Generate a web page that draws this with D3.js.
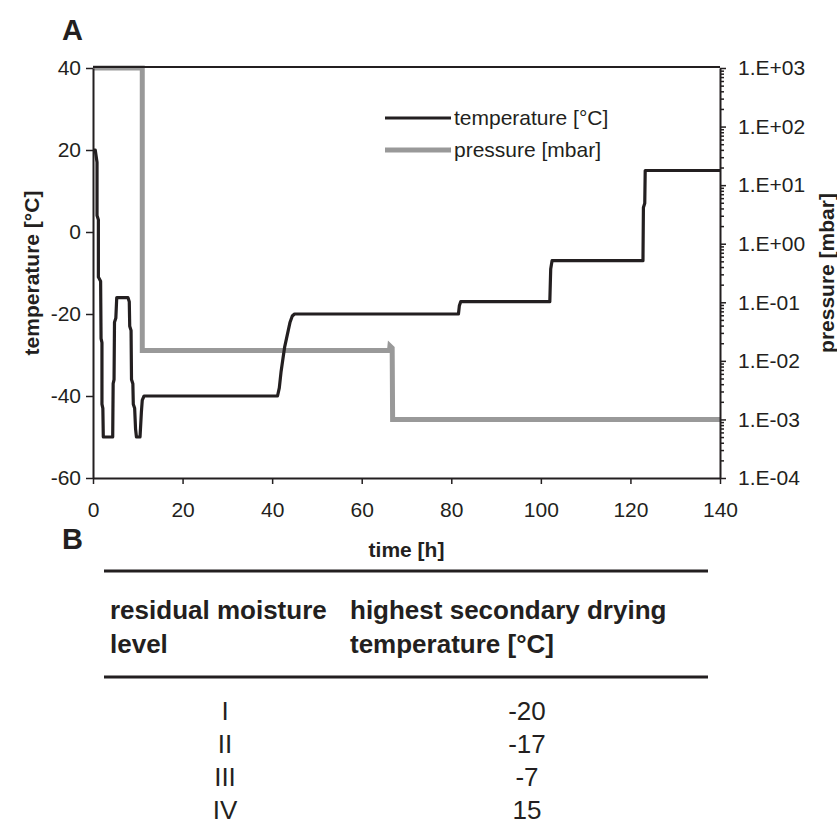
<!DOCTYPE html>
<html>
<head>
<meta charset="utf-8">
<script src="https://cdn.jsdelivr.net/npm/d3@7"></script>
<style>
  body { margin: 0; background: #fff; }
  svg text { font-family: "Liberation Sans", Arial, sans-serif; fill: #231f20; }
</style>
</head>
<body>
<div id="chart"></div>
<script>
// temperature trace (time [h], temperature [°C])
var timeTemp = [0, 0.5, 0.9, 0.9, 1.2, 1.2, 1.7, 1.8, 2.0, 2.0, 2.2, 2.3, 4.4, 4.5, 4.7, 4.8, 5.1, 5.3,
  7.8, 8.1, 8.2, 8.5, 8.6, 8.9, 9.0, 9.3, 9.5, 9.7, 10.5, 10.8, 11.0, 11.4,
  41.2, 41.6, 42.0, 42.4, 42.8, 43.2, 43.6, 44.0, 44.5, 45.0,
  81.6, 81.8, 82.1, 102.0, 102.2, 102.5, 122.8, 122.9, 123.2, 123.3, 140];
var temperature = [20, 20, 17, 4, 3, -11, -12, -26, -27, -42, -43, -50, -50, -37, -36, -22, -21, -16,
  -16, -17, -23, -24, -36, -37, -42, -43, -48, -50, -50, -44, -41, -40,
  -40, -38, -34, -31, -28, -26, -24, -22, -20.5, -20,
  -20, -18, -17, -17, -9, -7, -7, 6, 7, 15, 15];

// pressure trace (time [h], pressure [mbar])
var timePressure = [0, 11, 11, 66.2, 66.3, 66.8, 66.9, 140];
var pressure = [1000, 1000, 0.015, 0.015, 0.018, 0.0165, 0.001, 0.001];

var xTicks = [0, 20, 40, 60, 80, 100, 120, 140];
var tempTicks = [-60, -40, -20, 0, 20, 40];
var pressTicks = [1e-4, 1e-3, 1e-2, 1e-1, 1, 10, 100, 1000];

// table B
var tableHeader = [["residual moisture", "level"], ["highest secondary drying", "temperature [°C]"]];
var levels = ["I", "II", "III", "IV"];
var maxTemp = [-20, -17, -7, 15];

var W = 837, H = 836;
var margin = {left: 93, right: 117, top: 68, bottom: 358};
var dark = "#231f20", grey = "#999999";

var svg = d3.select("#chart").append("svg")
    .attr("width", W)
    .attr("height", H);

var x = d3.scaleLinear().domain([0, 140]).range([margin.left, W - margin.right]);
var yT = d3.scaleLinear().domain([-60, 40]).range([H - margin.bottom, margin.top]);
var yP = d3.scaleLog().domain([1e-4, 1e3]).range([H - margin.bottom, margin.top]);

// panel letters
svg.append("text").attr("x", 62).attr("y", 40)
    .style("font-size", "29px").style("font-weight", "bold").text("A");
svg.append("text").attr("x", 62).attr("y", 549)
    .style("font-size", "29px").style("font-weight", "bold").text("B");

// pressure line
var pData = timePressure.map(function(t, i) { return [t, pressure[i]]; });
svg.append("path")
    .datum(pData)
    .attr("fill", "none")
    .attr("stroke", grey)
    .attr("stroke-width", 5)
    .attr("d", d3.line().x(function(d) { return x(d[0]); }).y(function(d) { return yP(d[1]); }));

// temperature line
var tData = timeTemp.map(function(t, i) { return [t, temperature[i]]; });
svg.append("path")
    .datum(tData)
    .attr("fill", "none")
    .attr("stroke", dark)
    .attr("stroke-width", 3.2)
    .attr("stroke-linejoin", "round")
    .attr("d", d3.line().x(function(d) { return x(d[0]); }).y(function(d) { return yT(d[1]); }));

// top frame line
svg.append("line")
    .attr("x1", x(0)).attr("x2", x(140))
    .attr("y1", yT(40) - 1).attr("y2", yT(40) - 1)
    .attr("stroke", dark).attr("stroke-width", 2);

// axes
function styleAxis(g) {
  g.select(".domain").attr("stroke", dark).attr("stroke-width", 2);
  g.selectAll(".tick line").attr("stroke", dark).attr("stroke-width", 1.5);
  g.selectAll(".tick text").style("font-size", "21px").attr("fill", dark);
}
var plain = function(d) { return String(d); };   // hyphen minus, like the original

svg.append("g")
    .attr("transform", "translate(0," + yT(-60) + ")")
    .call(d3.axisBottom(x).tickValues(xTicks).tickFormat(plain).tickSize(6).tickPadding(18).tickSizeOuter(0))
    .call(styleAxis);

svg.append("g")
    .attr("transform", "translate(" + x(0) + ",0)")
    .call(d3.axisLeft(yT).tickValues(tempTicks).tickFormat(plain).tickSize(7).tickPadding(5).tickSizeOuter(0))
    .call(styleAxis);

// minor log ticks on right axis
var minor = [];
pressTicks.slice(0, -1).forEach(function(p) {
  for (var k = 2; k <= 9; k++) minor.push(p * k);
});
svg.append("g")
    .attr("transform", "translate(" + x(140) + ",0)")
    .call(d3.axisRight(yP).tickValues(minor).tickSize(4).tickFormat(""))
    .call(styleAxis)
    .select(".domain").remove();

function fmtE(v) {
  var e = Math.round(Math.log10(v));
  return "1.E" + (e < 0 ? "-" : "+") + (Math.abs(e) < 10 ? "0" : "") + Math.abs(e);
}
svg.append("g")
    .attr("transform", "translate(" + x(140) + ",0)")
    .call(d3.axisRight(yP).tickValues(pressTicks).tickSize(6).tickPadding(12).tickFormat(fmtE).tickSizeOuter(0))
    .call(styleAxis);

// axis titles
svg.append("text")
    .attr("transform", "translate(39," + (yT(-10)) + ") rotate(-90)")
    .attr("text-anchor", "middle")
    .style("font-size", "21px").style("font-weight", "bold")
    .text("temperature [°C]");
svg.append("text")
    .attr("transform", "translate(834," + (yT(-10)) + ") rotate(-90)")
    .attr("text-anchor", "middle")
    .style("font-size", "21px").style("font-weight", "bold")
    .text("pressure [mbar]");
svg.append("text")
    .attr("x", x(70)).attr("y", 557)
    .attr("text-anchor", "middle")
    .style("font-size", "21px").style("font-weight", "bold")
    .text("time [h]");

// legend
var legend = [["temperature [°C]", dark, 3], ["pressure [mbar]", grey, 5]];
legend.forEach(function(d, i) {
  var ly = 118 + i * 32;
  svg.append("line").attr("x1", 385).attr("x2", 451).attr("y1", ly).attr("y2", ly)
      .attr("stroke", d[1]).attr("stroke-width", d[2]);
  svg.append("text").attr("x", 454).attr("y", ly + 7)
      .style("font-size", "21px").text(d[0]);
});

// table B
svg.append("line").attr("x1", 104).attr("x2", 708).attr("y1", 571).attr("y2", 571)
    .attr("stroke", dark).attr("stroke-width", 3);
svg.append("line").attr("x1", 104).attr("x2", 708).attr("y1", 677).attr("y2", 677)
    .attr("stroke", dark).attr("stroke-width", 3);

var colX = [110, 350];
tableHeader.forEach(function(lines, c) {
  lines.forEach(function(s, j) {
    svg.append("text").attr("x", colX[c]).attr("y", 619 + j * 34)
        .style("font-size", "26px").style("font-weight", "bold").text(s);
  });
});

var rowY = d3.scaleLinear().domain([0, 3]).range([720, 819]);
levels.forEach(function(l, i) {
  svg.append("text").attr("x", 225).attr("y", rowY(i))
      .attr("text-anchor", "middle").style("font-size", "26px").text(l);
  svg.append("text").attr("x", 527).attr("y", rowY(i))
      .attr("text-anchor", "middle").style("font-size", "26px").text(maxTemp[i]);
});
</script>
</body>
</html>
